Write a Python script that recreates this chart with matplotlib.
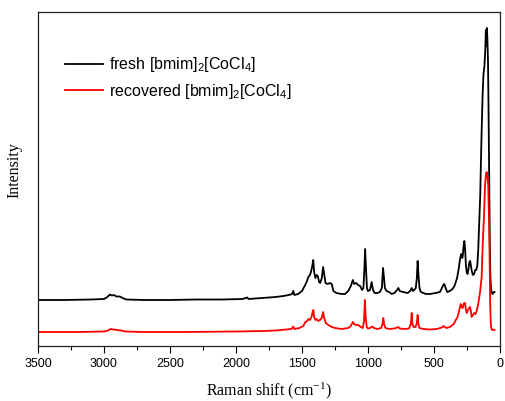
"""Raman spectra: fresh vs recovered [bmim]2[CoCl4]"""
import matplotlib
matplotlib.use("Agg")
import matplotlib.pyplot as plt
from matplotlib.ticker import MultipleLocator

plt.rcParams["font.family"] = ["Liberation Sans", "DejaVu Sans"]
plt.rcParams["mathtext.default"] = "regular"

# wavenumber (cm-1) / intensity (a.u.)
fresh_w = [3500, 3300, 3100, 3000, 2975, 2955, 2940, 2925, 2905, 2880, 2860, 2830,
           2700, 2500, 2300, 2100, 1950, 1915, 1905, 1800, 1700, 1640, 1600, 1575,
           1566, 1558, 1530, 1500, 1480, 1465, 1452, 1440, 1432, 1422, 1415, 1408,
           1398, 1389, 1381, 1370, 1362, 1350, 1340, 1332, 1322, 1305, 1290, 1275,
           1262, 1240, 1200, 1174, 1150, 1130, 1115, 1105, 1090, 1075, 1060, 1045,
           1035, 1028, 1022, 1016, 1008, 1000, 985, 972, 962, 950, 930, 910, 895,
           886, 880, 872, 860, 840, 820, 800, 780, 770, 760, 735, 700, 680, 669,
           660, 650, 638, 630, 624, 617, 610, 600, 580, 560, 530, 490, 455, 440,
           430, 422, 412, 400, 380, 360, 345, 335, 325, 312, 304, 298, 292, 286,
           282, 276, 270, 264, 258, 252, 246, 240, 232, 226, 220, 214, 205, 196,
           188, 180, 172, 165, 158, 150, 140, 132, 125, 118, 112, 107, 103, 99, 95,
           91, 87, 84, 80, 77, 73, 68, 62, 55, 48, 42]
fresh_i = [46, 46, 46.5, 47, 49, 51.5, 50.5, 51, 49.5, 49.5, 48, 46.5,
           46, 46, 46.5, 46.5, 47, 48.5, 47, 48, 49, 50, 51, 52,
           55, 51, 52, 55, 60, 64, 69, 71, 74, 80, 86, 74,
           68, 71, 70, 64, 63, 68, 79, 72, 63, 62, 63, 62,
           55, 53, 52, 52, 55, 60, 66, 62, 63, 61, 60, 56,
           58, 75, 97, 80, 58, 55, 56, 64, 56, 53, 53, 54, 58,
           78, 70, 58, 55, 54, 52, 53, 56, 58, 55, 54, 53, 55, 58,
           55, 56, 58, 68, 85, 70, 58, 54, 53, 52, 52, 53, 54, 58,
           61, 62, 58, 54, 55, 57, 60, 64, 68, 78, 86, 90, 92, 88,
           90, 100, 105, 96, 80, 74, 72, 76, 84, 85, 80, 75, 71, 72,
           76, 76, 80, 96, 120, 150, 210, 250, 272, 280, 295, 316, 300, 318, 305,
           285, 240, 195, 140, 100, 70, 57, 53, 52, 54, 54]

recov_w = [3500, 3200, 3000, 2970, 2950, 2930, 2900, 2870, 2840, 2700, 2400, 2000,
           1800, 1700, 1620, 1580, 1566, 1558, 1520, 1490, 1475, 1460, 1452, 1440,
           1428, 1420, 1414, 1408, 1398, 1389, 1378, 1364, 1350, 1340, 1332, 1320,
           1300, 1275, 1250, 1200, 1150, 1130, 1115, 1105, 1090, 1073, 1055, 1040,
           1030, 1024, 1018, 1010, 1000, 985, 968, 955, 930, 900, 890, 884, 878,
           868, 840, 800, 770, 760, 720, 690, 675, 669, 663, 655, 640, 630, 624,
           618, 610, 580, 530, 480, 440, 430, 420, 405, 380, 350, 335, 325, 315,
           305, 298, 290, 283, 276, 270, 265, 258, 252, 246, 238, 228, 222, 215,
           205, 195, 185, 175, 164, 150, 139, 130, 121, 114, 106, 101, 95, 89, 84,
           80, 77, 74, 70, 66, 60, 50, 42]
recov_i = [14, 14, 14.5, 15.5, 17, 16.5, 16, 15.5, 14.5, 14, 14, 14.5,
           15, 15.5, 16.5, 17, 19.5, 17, 18, 20, 24, 25, 27, 26,
           29, 34, 36, 29, 26, 27, 25, 26, 28, 34, 28, 23,
           21, 19, 18, 17, 18, 20, 24, 22, 21, 21, 19, 18,
           25, 46, 30, 19, 17.5, 18, 19.5, 18, 17, 18, 22, 28, 22,
           18, 17, 17.5, 19, 17.5, 17, 17.5, 22, 33, 22, 19, 19, 23, 31,
           22, 18, 17, 16.5, 17, 18.5, 20, 19, 18, 19, 22, 26, 28, 32,
           38, 42, 39, 38, 42, 43, 43, 36, 33, 35, 37, 39, 36, 29,
           31, 33, 32, 36, 43, 55, 69, 105, 130, 159, 172, 174, 170, 160, 130,
           100, 70, 40, 24, 18, 16, 16.5, 16]

fig = plt.figure(figsize=(5.05, 4.01), dpi=100)
ax = fig.add_axes([38 / 505, 1 - 346 / 401, 462 / 505, 334 / 401])

ax.plot(fresh_w, fresh_i, color="black", lw=1.3,
        label="fresh [bmim]$_2$[CoCl$_4$]")
ax.plot(recov_w, recov_i, color="#ff0000", lw=1.3,
        label="recovered [bmim]$_2$[CoCl$_4$]")

ax.set_xlim(3500, 0)
ax.set_ylim(0, 334)
ax.xaxis.set_major_locator(MultipleLocator(500))
ax.xaxis.set_minor_locator(MultipleLocator(250))
ax.tick_params(axis="x", which="major", direction="out", length=5, width=0.8,
               labelsize=9, pad=3.5)
ax.tick_params(axis="x", which="minor", direction="out", length=2.7, width=0.8)
ax.set_yticks([])
for s in ax.spines.values():
    s.set_linewidth(0.9)
    s.set_color("#222222")

ax.set_xlabel("Raman shift (cm$^{-1}$)", family="Liberation Serif",
              fontsize=11.5, labelpad=8)
ax.set_ylabel("Intensity", family="Liberation Serif", fontsize=11.5)
ax.yaxis.set_label_coords(-0.033, 0.527)

ax.legend(loc="upper left", bbox_to_anchor=(0.058, 0.87), frameon=False,
          fontsize=11.5, handlelength=2.4, handletextpad=0.35,
          labelspacing=0.45, borderpad=0, borderaxespad=0)

fig.savefig("out.png", dpi=100)
